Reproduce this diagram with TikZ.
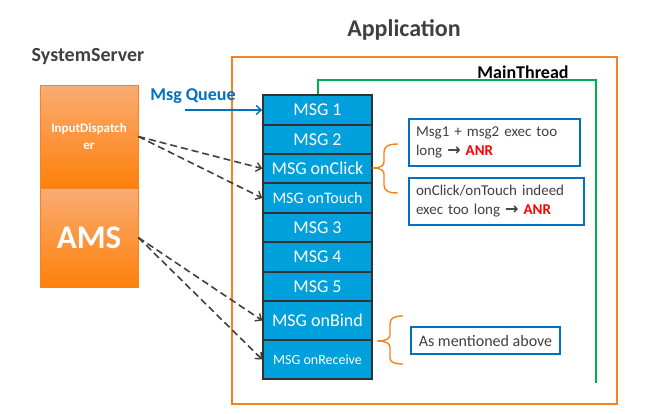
\documentclass[tikz,border=0pt]{standalone}
\usepackage{fontspec}
\setmainfont{Carlito}
\newfontfamily\symfont{DejaVu Sans}
\usetikzlibrary{arrows.meta}
\definecolor{rowblue}{RGB}{0,160,220}
\definecolor{rowedge}{RGB}{50,50,50}
\definecolor{txtgray}{RGB}{64,64,64}
\definecolor{appor}{RGB}{247,130,30}
\definecolor{lightor}{RGB}{250,172,115}
\definecolor{darkor}{RGB}{254,128,10}
\definecolor{qblue}{RGB}{0,112,192}
\definecolor{thgreen}{RGB}{0,176,80}
\definecolor{dashgray}{RGB}{64,64,64}
\tikzset{
  msgrow/.style={draw=rowedge, line width=1.6pt, fill=rowblue, text=white,
    minimum width=109pt, inner sep=0pt, font=\fontsize{18}{20}\selectfont},
  orbox/.style={top color=lightor, bottom color=darkor, draw=appor, line width=0.6pt,
    minimum width=98pt, inner sep=0pt, text=white, align=center},
  notebox/.style={draw=qblue, line width=1.3pt, fill=white, text=txtgray,
    inner xsep=7pt, inner ysep=3pt, font=\fontsize{15}{19}\selectfont},
  dasharrow/.style={draw=dashgray, line width=1.6pt, dash pattern=on 7pt off 4pt,
    -{Straight Barb[length=5pt,width=9pt,line width=1.4pt]}},
  bracepath/.style={draw=appor, line width=1.4pt},
  title/.style={text=txtgray, font=\bfseries\fontsize{20}{22}\selectfont}
}
\newcommand{\anr}{\textcolor{red}{\bfseries ANR}}
\newcommand{\arr}{{\symfont\bfseries\fontsize{16}{15}\selectfont →}}
\begin{document}
\begin{tikzpicture}[x=1pt,y=-1pt]
\useasboundingbox (0,0) rectangle (656,413);
% titles
\node[title] (ss) at (88,57) {SystemServer};
\node[title, font=\bfseries\fontsize{24}{26}\selectfont] (app) at (404,30) {Application};
% application frame
\draw[appor, line width=1.1pt] (232,57) rectangle (617,404);
% main thread
\node[text=black, font=\bfseries\fontsize{18}{20}\selectfont] (mt) at (523,72) {MainThread};
\coordinate (g1) at (318,95);
\coordinate (g4) at (596,383);
\draw[thgreen, line width=1.8pt] (g1) -- (318,80) -- (596,80) -- (g4);
% system server boxes
\node[orbox, minimum height=103pt, font=\bfseries\fontsize{13}{17}\selectfont] (id) at (89,136.5) {InputDispatch\\er};
\node[orbox, minimum height=99pt, font=\bfseries\fontsize{33}{36}\selectfont] (ams) at (89,237.5) {AMS};
% message rows
\node[msgrow, minimum height=30pt] (m1) at (317.5,110) {MSG 1};
\node[msgrow, minimum height=29pt] (m2) at (317.5,139.5) {MSG 2};
\node[msgrow, minimum height=29pt] (m3) at (317.5,168.5) {MSG onClick};
\node[msgrow, minimum height=30pt, font=\fontsize{16}{18}\selectfont] (m4) at (317.5,198) {MSG onTouch};
\node[msgrow, minimum height=29pt] (m5) at (317.5,227.5) {MSG 3};
\node[msgrow, minimum height=30pt] (m6) at (317.5,257) {MSG 4};
\node[msgrow, minimum height=29pt] (m7) at (317.5,286.5) {MSG 5};
\node[msgrow, minimum height=39pt] (m8) at (317.5,320.5) {MSG onBind};
\node[msgrow, minimum height=39pt, font=\fontsize{14}{16}\selectfont] (m9) at (317.5,359.5) {MSG onReceive};
% msg queue
\node[text=qblue, font=\bfseries\fontsize{18}{20}\selectfont] (mq) at (193,96) {Msg Queue};
\coordinate (mqs) at (185,110);
\draw[qblue, line width=1.6pt, -{Straight Barb[length=5pt,width=9pt,line width=1.4pt]}] (mqs) -- (m1.west);
% dashed arrows
\draw[dasharrow] (id.east) -- (m3.west);
\draw[dasharrow] (id.east) -- (m4.west);
\draw[dasharrow] (ams.east) -- (m8.west);
\draw[dasharrow] (ams.east) -- (m9.west);
% braces
\draw[bracepath] (398,144) .. controls (389,144) and (384,146) .. (384,152) -- (384,162) .. controls (384,166) and (380,168) .. (372,168) .. controls (380,168) and (384,170) .. (384,174) -- (384,185) .. controls (384,191) and (389,193) .. (398,193);
\draw[bracepath] (403,316) .. controls (394,316) and (390,318) .. (390,324) -- (390,335) .. controls (390,339) and (385,341) .. (377,341) .. controls (385,341) and (390,343) .. (390,347) -- (390,358) .. controls (390,362) and (394,364) .. (403,364);
% note boxes
\node[notebox, text width=157pt, minimum height=47pt, align=left] (b1) at (494.5,142.5) {Msg1 + msg2 exec too\\long \arr{} \anr};
\node[notebox, text width=161pt, minimum height=47pt, align=left] (b2) at (496.5,201.5) {onClick/onTouch indeed\\exec too long \arr{} \anr};
\node[notebox, minimum width=149pt, minimum height=27pt, inner xsep=2pt, font=\fontsize{16}{19}\selectfont] (b3) at (485.5,340.5) {As mentioned above};
\end{tikzpicture}
\end{document}
